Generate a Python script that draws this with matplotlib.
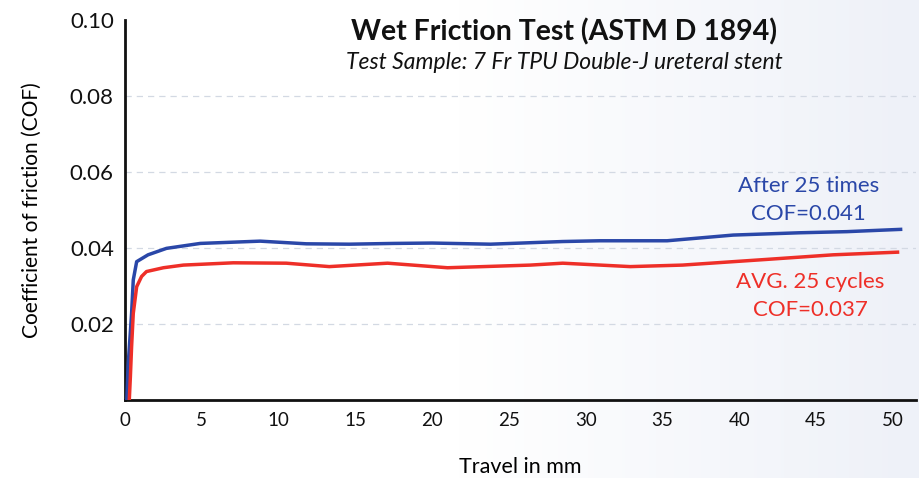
import numpy as np
import matplotlib
matplotlib.use("Agg")
from matplotlib import pyplot as plt
from matplotlib.colors import LinearSegmentedColormap

plt.rcParams['font.family'] = ['Lato', 'DejaVu Sans']

# travel (mm) / COF
blue_x = [0.12, 0.2, 0.43, 0.54, 0.76, 1.5, 2.7, 4.9, 8.8, 11.8, 14.6, 17.5, 20,
          23.8, 28.5, 30.9, 32.9, 35.3, 39.6, 43.9, 47, 50.5]
blue_y = [0.0, 0.0088, 0.0228, 0.0316, 0.0364, 0.0382, 0.0399, 0.0412, 0.0418,
          0.0411, 0.0410, 0.0412, 0.0413, 0.0410, 0.0417, 0.0419, 0.0419, 0.0419,
          0.0434, 0.0440, 0.0443, 0.0449]

red_x = [0.28, 0.35, 0.43, 0.54, 0.76, 1.08, 1.4, 2.5, 3.8, 7.05, 10.5, 13.3,
         17.1, 21, 26.4, 28.5, 32.9, 36.3, 41.8, 46.1, 50.3]
red_y = [0.0, 0.006, 0.014, 0.0228, 0.0298, 0.0325, 0.0338, 0.0348, 0.0355,
         0.0361, 0.0360, 0.0351, 0.0360, 0.0348, 0.0355, 0.0360, 0.0351, 0.0355,
         0.0370, 0.0382, 0.0389]

x_ticks = [0, 5, 10, 15, 20, 25, 30, 35, 40, 45, 50]
y_ticks = [0.02, 0.04, 0.06, 0.08, 0.10]
y_labels = ['0.02', '0.04', '0.06', '0.08', '0.10']

blue = '#2a47a8'
red = '#ee2f28'

fig = plt.figure(figsize=(9.19, 4.78), dpi=100)

# faint background gradient (white -> light blue-grey at right edge)
bg = fig.add_axes([0, 0, 1, 1], zorder=-10)
cmap = LinearSegmentedColormap.from_list('bg', ['#ffffff', '#ffffff', '#eef1f8'])
bg.imshow(np.linspace(0, 1, 300).reshape(1, -1), cmap=cmap, aspect='auto',
          extent=[0, 1, 0, 1])
bg.axis('off')

ax = fig.add_axes([0.136, 0.1632, 0.8607, 0.795])
ax.patch.set_alpha(0)

ax.plot(blue_x, blue_y, color=blue, lw=2.5, solid_joinstyle='round', zorder=3)
ax.plot(red_x, red_y, color=red, lw=2.5, solid_joinstyle='round', zorder=3)

ax.set_xlim(0, 51.5)
ax.set_ylim(0, 0.10)
ax.set_xticks(x_ticks)
ax.set_yticks(y_ticks)
ax.set_yticklabels(y_labels)
ax.tick_params(length=0, colors='#111111')
ax.tick_params(axis='x', pad=9, labelsize=13.5)
ax.tick_params(axis='y', pad=8, labelsize=16)

for y in y_ticks[:-1]:
    ax.axhline(y, color='#d3d9e3', lw=0.9, ls=(0, (5, 4)), zorder=1)

for s in ['top', 'right']:
    ax.spines[s].set_visible(False)
for s in ['left', 'bottom']:
    ax.spines[s].set_linewidth(2.0)
    ax.spines[s].set_color('#111111')

ax.set_ylabel('Coefficient of friction (COF)', fontsize=15, labelpad=20)
ax.set_xlabel('Travel in mm', fontsize=15.5, labelpad=20)

ax.text(28.6, 0.0968, 'Wet Friction Test (ASTM D 1894)', ha='center', va='center',
        fontsize=20.5, fontweight='bold', color='#111111')
ax.text(28.6, 0.0887, 'Test Sample: 7 Fr TPU Double-J ureteral stent',
        ha='center', va='center', fontsize=16.5, style='italic', color='#111111')

ax.text(44.5, 0.0563, 'After 25 times', ha='center', va='center', fontsize=16, color=blue)
ax.text(44.5, 0.0490, 'COF=0.041', ha='center', va='center', fontsize=16, color=blue)
ax.text(44.6, 0.0310, 'AVG. 25 cycles', ha='center', va='center', fontsize=16, color=red)
ax.text(44.6, 0.0237, 'COF=0.037', ha='center', va='center', fontsize=16, color=red)

fig.savefig('out.png', dpi=100)
